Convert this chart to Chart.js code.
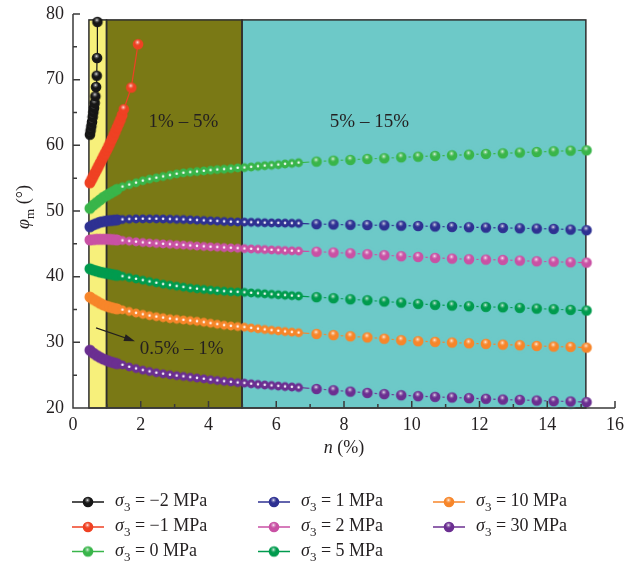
<!DOCTYPE html>
<html>
<head>
<meta charset="utf-8">
<script src="https://cdn.jsdelivr.net/npm/chart.js@4.4.1/dist/chart.umd.min.js"></script>
<style>
html, body { margin: 0; padding: 0; background: #fff; }
#wrap { width: 639px; height: 567px; }
</style>
</head>
<body>
<div id="wrap"><canvas id="chart" width="639" height="567"></canvas></div>
<script>
// n (%) sample positions shared by the six long curves
const denseN = [0.5, 0.6, 0.7, 0.8, 0.9, 1.0, 1.1, 1.2, 1.3, 1.46, 1.66, 1.86, 2.06, 2.26, 2.46, 2.66, 2.86, 3.06,
  3.26, 3.46, 3.66, 3.86, 4.06, 4.26, 4.46, 4.66, 4.86, 5.06, 5.26, 5.46, 5.66, 5.86, 6.06, 6.26, 6.46, 6.66];
const sparseN = [7.19, 7.69, 8.19, 8.69, 9.19, 9.69, 10.19, 10.69, 11.19, 11.69, 12.19, 12.69, 13.19, 13.69, 14.19, 14.69, 15.16];
const nAll = denseN.concat(sparseN);

// sigma3 = -2 MPa
const nNeg2 = [0.50, 0.52, 0.54, 0.56, 0.58, 0.60, 0.62, 0.64, 0.66, 0.68, 0.70, 0.71, 0.72];
const phiNeg2 = [61.63, 62.24, 62.9, 63.56, 64.32, 65.03, 65.7, 66.45, 67.46, 68.89, 70.6, 73.3, 78.8];
// sigma3 = -1 MPa
const nNeg1 = [0.50, 0.55, 0.60, 0.65, 0.70, 0.75, 0.80, 0.85, 0.90, 0.95, 1.00, 1.05, 1.10, 1.15, 1.20, 1.25, 1.30, 1.35, 1.40, 1.45, 1.50, 1.72, 1.92];
const phiNeg1 = [54.3, 54.8, 55.3, 55.8, 56.3, 56.8, 57.3, 57.8, 58.3, 58.8, 59.3, 59.85, 60.4, 60.95, 61.5, 62.1, 62.7, 63.3, 63.9, 64.6, 65.5, 68.8, 75.4];

const phi0 = [50.4, 50.9, 51.3, 51.7, 52.1, 52.4, 52.7, 53.0, 53.3, 53.7, 54.0, 54.3, 54.6, 54.85, 55.05, 55.25, 55.45, 55.65,
  55.8, 55.9, 56.0, 56.1, 56.2, 56.3, 56.35, 56.45, 56.55, 56.6, 56.7, 56.8, 56.9, 56.95, 57.05, 57.15, 57.25, 57.35,
  57.52, 57.67, 57.78, 57.93, 58.03, 58.18, 58.28, 58.39, 58.48, 58.58, 58.69, 58.78, 58.89, 58.99, 59.09, 59.19, 59.24];
const phi1 = [47.6, 47.9, 48.1, 48.3, 48.4, 48.5, 48.55, 48.6, 48.65, 48.7, 48.75, 48.8, 48.8, 48.8, 48.8, 48.78, 48.75, 48.72,
  48.7, 48.65, 48.6, 48.55, 48.5, 48.45, 48.4, 48.35, 48.32, 48.3, 48.27, 48.24, 48.21, 48.19, 48.17, 48.15, 48.13, 48.11,
  48.0, 47.95, 47.9, 47.86, 47.82, 47.77, 47.72, 47.64, 47.58, 47.53, 47.47, 47.43, 47.37, 47.32, 47.27, 47.17, 47.07];
const phi2 = [45.6, 45.65, 45.7, 45.7, 45.7, 45.7, 45.68, 45.65, 45.6, 45.5, 45.4, 45.3, 45.2, 45.12, 45.05, 44.98, 44.92, 44.86,
  44.8, 44.73, 44.66, 44.6, 44.54, 44.48, 44.43, 44.38, 44.32, 44.27, 44.22, 44.17, 44.12, 44.07, 44.02, 43.97, 43.93, 43.89,
  43.8, 43.68, 43.55, 43.42, 43.27, 43.11, 43.01, 42.86, 42.75, 42.65, 42.6, 42.55, 42.45, 42.34, 42.3, 42.19, 42.14];
const phi5 = [41.2, 41.0, 40.85, 40.7, 40.6, 40.5, 40.4, 40.3, 40.2, 40.05, 39.85, 39.65, 39.45, 39.25, 39.05, 38.85, 38.7, 38.55,
  38.4, 38.25, 38.15, 38.05, 37.95, 37.85, 37.77, 37.7, 37.65, 37.6, 37.52, 37.45, 37.38, 37.31, 37.24, 37.17, 37.1, 37.04,
  36.88, 36.72, 36.56, 36.4, 36.22, 36.05, 35.86, 35.71, 35.6, 35.5, 35.4, 35.34, 35.25, 35.14, 35.04, 34.95, 34.84];
const phi10 = [36.9, 36.55, 36.25, 35.95, 35.7, 35.5, 35.35, 35.2, 35.1, 34.95, 34.7, 34.45, 34.25, 34.05, 33.9, 33.75, 33.6, 33.5,
  33.4, 33.3, 33.2, 33.05, 32.9, 32.75, 32.6, 32.48, 32.4, 32.3, 32.18, 32.06, 31.95, 31.84, 31.74, 31.64, 31.55, 31.46,
  31.28, 31.1, 30.92, 30.75, 30.55, 30.32, 30.17, 30.07, 29.97, 29.86, 29.77, 29.66, 29.56, 29.46, 29.36, 29.31, 29.2];
const phi30 = [28.8, 28.35, 28.0, 27.7, 27.45, 27.25, 27.05, 26.9, 26.75, 26.55, 26.25, 26.0, 25.75, 25.55, 25.35, 25.2, 25.05, 24.92,
  24.8, 24.68, 24.55, 24.43, 24.3, 24.18, 24.06, 23.95, 23.86, 23.78, 23.68, 23.58, 23.5, 23.42, 23.34, 23.26, 23.19, 23.12,
  22.9, 22.7, 22.5, 22.3, 22.12, 21.95, 21.8, 21.7, 21.6, 21.5, 21.4, 21.29, 21.24, 21.14, 21.04, 20.99, 20.89];

const sigma3 = ['\u22122', '\u22121', '0', '1', '2', '5', '10', '30'];
const colors = ['#161616', '#ef4123', '#39b54a', '#2e3192', '#c951a4', '#009b4e', '#f7862a', '#6b2f91'];

// n ranges of the shaded zones
const zoneEdges = [0.47, 0.99, 4.99, 15.14];
const zoneColors = ['#f7f07b', '#7a7915', '#6dc9c8'];
const zoneTop = 79.1;
const zoneLabels = ['0.5% \u2013 1%', '1% \u2013 5%', '5% \u2013 15%'];

const SERIF = '"Liberation Serif", "Times New Roman", serif';
const INK = '#231f20';

function ball(color, r, hl, ring) {
  const pad = ring ? 2.2 : 0;
  const s = 2 * Math.ceil(r + pad + 1);
  const c = document.createElement('canvas');
  c.width = c.height = s;
  const g = c.getContext('2d');
  const m = s / 2;
  if (ring) {
    g.fillStyle = zoneColors[2];
    g.beginPath(); g.arc(m, m, r + pad, 0, 2 * Math.PI); g.fill();
  }
  g.fillStyle = color;
  g.beginPath(); g.arc(m, m, r, 0, 2 * Math.PI); g.fill();
  if (hl === 'dot') {
    g.fillStyle = 'rgba(255,255,255,0.95)';
    g.beginPath(); g.arc(m, m - 0.3, 1.3, 0, 2 * Math.PI); g.fill();
  } else if (hl === 'shine') {
    const hx = m - r * 0.1, hy = m - r * 0.35;
    const gr = g.createRadialGradient(hx, hy, 0, hx, hy, r * 0.55);
    gr.addColorStop(0, 'rgba(255,255,255,0.95)');
    gr.addColorStop(0.45, 'rgba(255,255,255,0.35)');
    gr.addColorStop(1, 'rgba(255,255,255,0)');
    g.fillStyle = gr;
    g.beginPath(); g.arc(m, m, r, 0, 2 * Math.PI); g.fill();
  }
  return c;
}

const sprites = colors.map(col => ({
  band: ball(col, 5.5, null, false),
  small: ball(col, 4.4, 'dot', false),
  big: ball(col, 5.3, 'shine', false),
  bigRing: ball(col, 5.3, 'shine', true)
}));

function kindOf(si, i, x, count) {
  if (si === 0) return 'big';
  if (si === 1) return x < 1.49 ? 'band' : 'big';
  if (x < 1.4) return 'band';
  if (x < 6.7) return 'small';
  return i === count - 1 ? 'big' : 'bigRing';
}

const seriesN = [nNeg2, nNeg1, nAll, nAll, nAll, nAll, nAll, nAll];
const seriesPhi = [phiNeg2, phiNeg1, phi0, phi1, phi2, phi5, phi10, phi30];

const datasets = seriesPhi.map((ys, si) => ({
  label: '\u03c33 = ' + sigma3[si] + ' MPa',
  data: ys.map((v, i) => ({ x: seriesN[si][i], y: v })),
  showLine: true,
  borderColor: colors[si],
  backgroundColor: colors[si],
  borderWidth: 1.2,
  tension: 0,
  clip: false,
  pointRadius: 5,
  pointStyle: ctx => sprites[si][kindOf(si, ctx.dataIndex, seriesN[si][ctx.dataIndex], ys.length)]
}));

function drawRich(ctx, parts, x, y, align, size) {
  const subSize = Math.round(size * 0.7);
  const fontOf = p => (p.it ? 'italic ' : '') + (p.sub ? subSize : size) + 'px ' + SERIF;
  let w = 0;
  parts.forEach(p => { ctx.font = fontOf(p); w += ctx.measureText(p.t).width; });
  let cx = align === 'center' ? x - w / 2 : x;
  ctx.textAlign = 'left';
  ctx.textBaseline = 'alphabetic';
  parts.forEach(p => {
    ctx.font = fontOf(p);
    ctx.fillText(p.t, cx, p.sub ? y + size * 0.3 : y);
    cx += ctx.measureText(p.t).width;
  });
}

const deco = {
  id: 'deco',
  beforeDatasetsDraw(chart) {
    const { ctx, scales: { x, y } } = chart;
    const yb = y.getPixelForValue(20), yt = y.getPixelForValue(zoneTop);
    ctx.save();
    for (let i = 0; i < zoneColors.length; i++) {
      const x0 = x.getPixelForValue(zoneEdges[i]), x1 = x.getPixelForValue(zoneEdges[i + 1]);
      ctx.fillStyle = zoneColors[i];
      ctx.fillRect(x0, yt, x1 - x0, yb - yt);
    }
    ctx.strokeStyle = '#2e2e2e';
    ctx.lineWidth = 1.5;
    for (let i = 0; i < zoneColors.length; i++) {
      const x0 = x.getPixelForValue(zoneEdges[i]), x1 = x.getPixelForValue(zoneEdges[i + 1]);
      ctx.strokeRect(x0, yt, x1 - x0, yb - yt);
    }
    ctx.restore();
  },
  afterDatasetsDraw(chart) {
    const { ctx, scales: { x, y } } = chart;
    ctx.save();
    ctx.fillStyle = INK;
    ctx.font = '19px ' + SERIF;
    ctx.textBaseline = 'middle';
    ctx.textAlign = 'center';
    ctx.fillText(zoneLabels[1], x.getPixelForValue(3.26), y.getPixelForValue(63.5));
    ctx.fillText(zoneLabels[2], x.getPixelForValue(8.75), y.getPixelForValue(63.5));
    ctx.textAlign = 'left';
    ctx.fillText(zoneLabels[0], x.getPixelForValue(1.97), y.getPixelForValue(28.93));
    // arrow
    const ax0 = x.getPixelForValue(0.68), ay0 = y.getPixelForValue(32.2);
    const ax1 = x.getPixelForValue(1.83), ay1 = y.getPixelForValue(30.17);
    const ang = Math.atan2(ay1 - ay0, ax1 - ax0);
    ctx.strokeStyle = INK;
    ctx.lineWidth = 1.2;
    ctx.beginPath(); ctx.moveTo(ax0, ay0);
    ctx.lineTo(ax1 - 6 * Math.cos(ang), ay1 - 6 * Math.sin(ang)); ctx.stroke();
    ctx.beginPath();
    ctx.moveTo(ax1, ay1);
    ctx.lineTo(ax1 - 11 * Math.cos(ang) + 3.5 * Math.sin(ang), ay1 - 11 * Math.sin(ang) - 3.5 * Math.cos(ang));
    ctx.lineTo(ax1 - 11 * Math.cos(ang) - 3.5 * Math.sin(ang), ay1 - 11 * Math.sin(ang) + 3.5 * Math.cos(ang));
    ctx.closePath(); ctx.fill();
    ctx.restore();
  },
  afterDraw(chart) {
    const { ctx, chartArea: a, scales: { x, y } } = chart;
    ctx.save();
    // axes with inward ticks
    ctx.strokeStyle = '#3a3a3a';
    ctx.lineWidth = 1.5;
    ctx.beginPath();
    ctx.moveTo(a.left, a.top); ctx.lineTo(a.left, a.bottom); ctx.lineTo(a.right, a.bottom);
    for (let v = 20; v <= 80; v += 5) {
      const py = y.getPixelForValue(v);
      ctx.moveTo(a.left, py); ctx.lineTo(a.left + (v % 10 === 0 ? 7 : 4), py);
    }
    for (let v = 0; v <= 16; v += 1) {
      const px = x.getPixelForValue(v);
      ctx.moveTo(px, a.bottom); ctx.lineTo(px, a.bottom - (v % 2 === 0 ? 7 : 4));
    }
    ctx.stroke();
    // axis titles
    ctx.fillStyle = INK;
    drawRich(ctx, [{ t: 'n', it: true }, { t: ' (%)' }], (a.left + a.right) / 2, 453, 'center', 18);
    ctx.save();
    ctx.translate(29, 207);
    ctx.rotate(-Math.PI / 2);
    drawRich(ctx, [{ t: '\u03c6', it: true }, { t: 'm', sub: true }, { t: ' (\u00b0)' }], 0, 0, 'center', 18);
    ctx.restore();
    // legend, three columns
    const colX = [72, 258, 433];
    const rowY = [502, 527, 551.5];
    chart.data.datasets.forEach((ds, i) => {
      const cx = colX[Math.floor(i / 3)], cy = rowY[i % 3];
      ctx.strokeStyle = colors[i];
      ctx.lineWidth = 1.5;
      ctx.beginPath(); ctx.moveTo(cx, cy); ctx.lineTo(cx + 32, cy); ctx.stroke();
      const img = sprites[i].big;
      ctx.drawImage(img, cx + 16 - img.width / 2, cy - img.height / 2);
      ctx.fillStyle = INK;
      drawRich(ctx, [{ t: '\u03c3', it: true }, { t: '3', sub: true }, { t: ' = ' + sigma3[i] + ' MPa' }], cx + 43, cy + 4, 'left', 18);
    });
    ctx.restore();
  }
};

new Chart(document.getElementById('chart'), {
  type: 'scatter',
  data: { datasets },
  options: {
    responsive: false,
    animation: false,
    layout: { padding: { top: 14, right: 24, bottom: 99, left: 0 } },
    plugins: { legend: { display: false }, tooltip: { enabled: false } },
    scales: {
      x: {
        type: 'linear', min: 0, max: 16,
        ticks: { stepSize: 2, padding: 6, maxRotation: 0, color: INK, font: { family: SERIF, size: 18 } },
        grid: { display: false, drawTicks: false },
        border: { display: false },
        afterFit: s => { s.height = 60; }
      },
      y: {
        type: 'linear', min: 20, max: 80,
        ticks: { stepSize: 10, padding: 9, color: INK, font: { family: SERIF, size: 18 } },
        grid: { display: false, drawTicks: false },
        border: { display: false },
        afterFit: s => { s.width = 73; s.paddingTop = 0; s.paddingBottom = 0; }
      }
    }
  },
  plugins: [deco]
});
</script>
</body>
</html>
